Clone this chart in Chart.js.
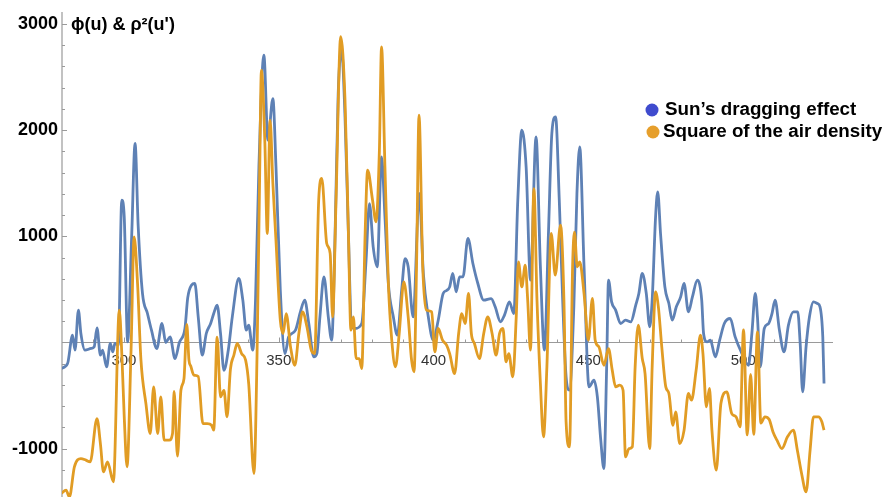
<!DOCTYPE html>
<html>
<head>
<meta charset="utf-8">
<script src="https://cdn.jsdelivr.net/npm/chart.js@4.4.1/dist/chart.umd.min.js"></script>
<style>
  html, body { margin: 0; padding: 0; background: #ffffff; }
  #wrap { width: 887px; height: 497px; position: relative; }
</style>
</head>
<body>
<div id="wrap"><canvas id="chart" width="887" height="497"></canvas></div>
<script>
// Sun's dragging effect, phi(u)
const sunU = [279.7,281.8,283.4,284.2,285.3,286.1,287.4,289.4,290.4,291.3,292.4,293.1,294.4,295.6,296.4,297.1,298.2,299.3,300.1,301.2,302.5,303.6,304.6,306.0,307.6,308.9,310.6,312.3,313.5,314.9,316.5,317.9,319.7,320.6,321.8,322.9,324.0,325.3,326.6,328.0,329.0,330.1,331.2,332.3,333.7,335.0,337.1,338.4,339.5,340.3,341.6,342.5,343.6,345.2,346.5,348.1,349.1,350.5,352.0,353.2,355.4,357.0,358.4,359.7,361.3,362.3,363.3,364.6,366.0,367.1,368.2,369.2,370.3,371.4,372.5,373.5,374.6,376.8,378.2,379.3,380.5,381.8,383.2,384.3,385.4,387.0,388.3,389.7,390.8,391.8,393.4,395.4,396.7,398.3,399.9,401.5,403.1,404.2,405.2,406.2,407.3,408.4,409.5,411.1,412.7,414.3,416.2,418.6,419.9,421.6,422.9,424.5,425.9,427.2,428.5,429.9,431.3,433.1,434.5,435.8,437.1,438.2,439.4,440.6,441.7,442.8,443.9,445.3,446.3,447.2,448.6,450.2,451.8,452.9,454.0,455.0,455.9,456.5,457.5,458.8,460.4,462.0,463.7,465.3,466.3,467.4,468.7,469.8,470.6,471.7,472.4,473.3,474.7,476.0,477.1,478.4,479.8,480.9,482.3,483.6,485.2,486.6,487.2,488.3,489.4,491.0,492.4,493.9,495.8,497.4,499.6,501.7,502.8,503.9,504.6,505.5,506.8,508.2,509.3,510.3,511.7,513.2,514.6,516.2,517.6,518.4,519.2,520.3,521.4,522.7,524.0,524.8,525.7,526.1];
const sunPhi = [-245,-198,69,-72,305,85,-72,-56,-40,138,-119,-72,-229,-9,-88,-9,-25,1340,1184,6,1000,1875,1100,461,273,116,-57,179,0,53,-151,0,132,420,540,556,240,-119,85,179,273,352,85,-261,-72,242,603,399,116,163,-72,400,1660,2707,1906,2298,1660,493,-104,53,116,289,399,179,-135,-104,242,619,242,22,1027,2345,2754,2127,1027,148,132,179,776,1309,901,713,1749,1184,556,242,69,493,791,713,242,1404,650,242,22,210,462,490,524,650,477,619,619,980,744,556,399,414,336,195,258,383,273,1340,2000,1650,587,1937,713,-72,1027,1970,2126,1340,399,-323,-449,336,1400,1843,713,-418,-355,-512,-920,-1187,-230,587,383,305,179,210,195,352,462,650,462,148,399,1184,1419,1027,524,367,210,336,430,556,289,430,587,400,85,6,22,-135,22,179,226,53,-104,-214,85,462,242,-229,132,179,273,399,116,-88,163,289,289,-9,-465,-41,242,383,367,336,53,-386];

// Square of the air density, rho^2(u')
const airU = [279.7,281.3,282.4,284.0,286.1,287.7,289.1,291.3,292.4,293.4,294.7,296.6,298.5,299.4,300.1,301.0,302.3,303.3,304.4,305.5,307.1,308.5,309.6,310.9,311.9,313.0,314.6,315.7,316.2,317.3,318.4,319.4,320.3,321.0,321.6,322.6,324.0,325.5,326.9,328.3,329.0,330.1,331.2,332.3,333.3,334.4,335.5,336.6,338.0,339.3,340.3,342.0,343.0,343.8,344.4,345.5,346.3,347.2,348.1,349.1,350.5,351.4,352.4,353.8,355.2,356.5,357.7,359.1,360.5,361.6,362.9,363.9,365.5,366.6,367.4,368.5,370.0,371.4,372.5,373.3,374.1,375.0,376.0,376.8,377.9,378.7,380.3,381.4,382.5,383.2,384.3,385.4,386.5,387.7,388.9,390.4,391.8,392.9,393.7,394.5,395.3,396.5,397.7,399.4,400.4,401.5,402.9,404.2,405.2,406.8,408.1,409.1,410.2,411.3,412.2,413.2,414.8,416.2,417.5,418.9,420.2,421.3,422.4,423.4,424.3,425.6,426.7,427.4,428.5,429.6,430.4,431.3,432.4,433.4,434.5,435.5,436.6,438.0,439.3,441.0,442.1,442.8,443.9,444.9,445.5,446.4,447.2,448.6,450.0,451.3,452.2,453.4,455.0,456.5,457.7,458.8,460.1,461.2,462.0,463.1,464.2,465.1,466.1,467.4,468.3,469.8,470.6,471.7,472.6,473.7,475.0,476.0,477.3,478.2,479.5,480.9,482.3,483.3,484.8,486.2,487.0,488.1,489.1,489.9,491.3,492.8,494.7,496.3,497.7,499.0,500.1,501.3,502.4,503.4,504.6,505.7,507.0,508.4,509.6,510.9,512.5,514.3,516.2,517.5,518.9,520.3,521.6,522.7,524.3,525.4,526.1];
const airRhoSq = [-1422,-1391,-1454,-1171,-1093,-1108,-1124,-716,-952,-1218,-1124,-1312,305,-166,-700,-1171,-72,995,556,-166,-575,-857,-418,-857,-512,-920,-920,-857,-460,-1070,-450,-340,170,-166,-223,-308,-320,-763,-763,-779,-826,50,-512,-450,-700,-250,-120,-9,-104,-166,-390,-1234,-100,1500,2565,1900,1027,2094,1500,964,210,85,273,-41,-214,85,289,148,-72,-104,1340,1545,933,839,242,1340,2880,2284,1027,116,242,-151,-151,-245,1027,1623,1340,1137,1805,2785,1647,556,22,-229,85,571,242,-166,-276,713,2141,713,305,289,-88,132,22,-25,-104,-292,85,273,179,462,85,-9,-151,85,242,85,-119,85,132,-182,-104,-323,242,760,524,728,400,-72,1450,400,-386,-888,-230,1027,634,1105,400,-747,-982,713,1040,713,760,460,22,415,22,-41,-214,-57,-260,-418,-402,-450,-1077,-1000,-982,-230,163,-151,-292,-999,-230,477,336,-41,-418,-480,-779,-653,-951,-826,-480,-543,-260,69,-104,-606,-433,-826,-1202,-575,-465,-669,-700,-794,120,-870,-300,-866,100,-760,-700,-725,-840,-920,-999,-888,-826,-1016,-1240,-1407,-1016,-700,-700,-747,-826];

const xTickLabels = [300, 350, 400, 450, 500];
const yTickLabels = [-1000, 1000, 2000, 3000];
const seriesNames = ['Sun\u2019s dragging effect', 'Square of the air density'];
const axisTitle = '\u03D5(u) & \u03C1\u00B2(u\')';

const FONT = '"Liberation Sans", Arial, Helvetica, sans-serif';
const BLUE = '#5E81B5';
const ORANGE = '#E19C24';

function toPoints(us, vs) {
  return us.map((u, i) => ({ x: u, y: vs[i] }));
}

// Axes through the origin with inward tick marks
const originAxes = {
  id: 'originAxes',
  beforeDatasetsDraw(chart) {
    const { ctx, chartArea } = chart;
    const xs = chart.scales.x, ys = chart.scales.y;
    const y0 = ys.getPixelForValue(0);
    const xl = chartArea.left;
    ctx.save();
    ctx.strokeStyle = '#9a9a9a';
    ctx.lineWidth = 1.2;
    ctx.beginPath();
    ctx.moveTo(xl, chartArea.top);
    ctx.lineTo(xl, chartArea.bottom);
    ctx.moveTo(xl, y0);
    ctx.lineTo(chartArea.right, y0);
    ctx.stroke();
    ctx.lineWidth = 1;
    ctx.beginPath();
    for (let v = -1400; v <= 3000; v += 200) {
      if (v === 0) continue;
      const p = Math.round(ys.getPixelForValue(v)) + 0.5;
      const len = v % 1000 === 0 ? 5 : 3;
      ctx.moveTo(xl, p);
      ctx.lineTo(xl + len, p);
    }
    for (let v = 290; v <= 520; v += 10) {
      const p = Math.round(xs.getPixelForValue(v)) + 0.5;
      const len = v % 50 === 0 ? 5 : 3;
      ctx.moveTo(p, y0);
      ctx.lineTo(p, y0 - len);
    }
    ctx.stroke();
    ctx.restore();
  }
};

// Axis title and legend inside the plot
const annotations = {
  id: 'annotations',
  afterDraw(chart) {
    const { ctx, chartArea } = chart;
    const ys = chart.scales.y;
    ctx.save();
    ctx.fillStyle = '#000';
    ctx.textBaseline = 'middle';
    ctx.textAlign = 'left';
    ctx.font = 'bold 18px ' + FONT;
    ctx.fillText(axisTitle, chartArea.left + 9, ys.getPixelForValue(3000) + 1);

    const rows = [
      { name: seriesNames[0], dot: '#3f4bce', cx: 652, cy: 110, tx: 665 },
      { name: seriesNames[1], dot: '#e69f2c', cx: 653, cy: 132, tx: 663 }
    ];
    ctx.font = 'bold 18.8px ' + FONT;
    rows.forEach(r => {
      ctx.fillStyle = r.dot;
      ctx.beginPath();
      ctx.arc(r.cx, r.cy, 6.5, 0, Math.PI * 2);
      ctx.fill();
      ctx.fillStyle = '#000';
      ctx.fillText(r.name, r.tx, r.cy);
    });
    ctx.restore();
  }
};

new Chart(document.getElementById('chart').getContext('2d'), {
  type: 'line',
  data: {
    datasets: [
      {
        label: seriesNames[0],
        data: toPoints(sunU, sunPhi),
        borderColor: BLUE,
        borderWidth: 2.8,
        pointRadius: 0,
        fill: false,
        cubicInterpolationMode: 'monotone',
        order: 1
      },
      {
        label: seriesNames[1],
        data: toPoints(airU, airRhoSq),
        borderColor: ORANGE,
        borderWidth: 2.8,
        pointRadius: 0,
        fill: false,
        cubicInterpolationMode: 'monotone',
        order: 0
      }
    ]
  },
  options: {
    responsive: false,
    animation: false,
    events: [],
    layout: { padding: { left: 0, top: 12, right: 54, bottom: 0 } },
    plugins: { legend: { display: false }, tooltip: { enabled: false } },
    scales: {
      x: {
        type: 'linear',
        min: 280,
        max: 529,
        position: { y: 0 },
        afterFit(scale) {
          scale.height = 0;
          scale.paddingLeft = 0;
          scale.paddingRight = 0;
        },
        afterBuildTicks(scale) { scale.ticks = xTickLabels.map(v => ({ value: v })); },
        grid: { display: false, drawTicks: false },
        border: { display: false },
        ticks: {
          autoSkip: false,
          maxRotation: 0,
          padding: 9,
          color: '#333',
          font: { family: FONT, size: 15 },
          callback: v => String(v)
        }
      },
      y: {
        type: 'linear',
        min: -1455,
        max: 3113,
        afterFit(scale) {
          scale.width = 62;
          scale.paddingTop = 0;
          scale.paddingBottom = 0;
        },
        afterBuildTicks(scale) { scale.ticks = yTickLabels.map(v => ({ value: v })); },
        grid: { display: false, drawTicks: false },
        border: { display: false },
        ticks: {
          autoSkip: false,
          padding: 4,
          color: '#000',
          font: { family: FONT, size: 18, weight: 'bold' },
          callback: v => String(v)
        }
      }
    }
  },
  plugins: [originAxes, annotations]
});
</script>
</body>
</html>
